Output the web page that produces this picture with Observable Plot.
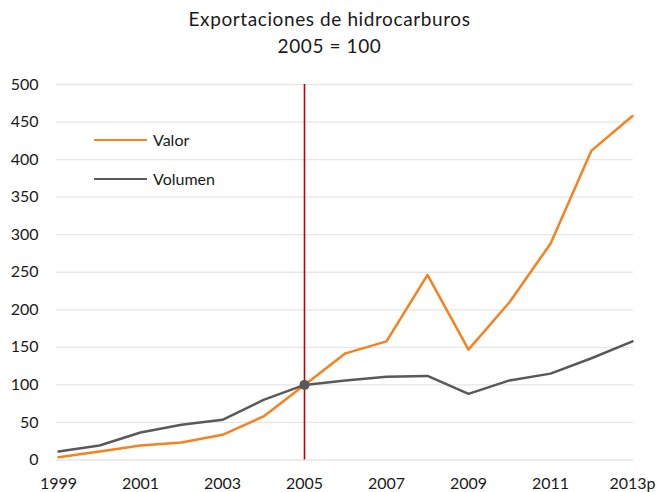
<!DOCTYPE html>
<html>
<head>
<meta charset="utf-8">
<script src="https://cdn.jsdelivr.net/npm/d3@7"></script>
<script src="https://cdn.jsdelivr.net/npm/@observablehq/plot@0.6"></script>
<style>
  html, body { margin: 0; padding: 0; background: #fff; }
  body { width: 657px; height: 492px; position: relative; font-family: Lato, "DejaVu Sans", sans-serif; color: #1a1a1a; overflow: hidden; }
  #title { text-align: center; font-size: 19px; letter-spacing: 0.6px; line-height: 27px; padding-top: 5px; height: 63px; padding-left: 2px; }
  #chart { position: absolute; left: 0; top: 68px; }
  .legend { position: absolute; font-size: 16px; display: flex; align-items: center; }
  .legend .sw { width: 53px; height: 0; border-top: 2.5px solid; margin-right: 6px; }
</style>
</head>
<body>
<div id="title">Exportaciones de hidrocarburos<br>2005 = 100</div>
<div id="chart"></div>
<div class="legend" style="left:94px; top:130px;"><span class="sw" style="border-color:#F5821F"></span>Valor</div>
<div class="legend" style="left:94px; top:169px;"><span class="sw" style="border-color:#595959"></span>Volumen</div>
<script>
const years = ["1999","2000","2001","2002","2003","2004","2005","2006","2007","2008","2009","2010","2011","2012","2013p"];
const valor = [3.8, 11.3, 19.3, 23.3, 33.5, 58, 100, 142, 158, 246.6, 147, 210, 288, 412, 458];
const volumen = [11.3, 19.3, 36.6, 46.8, 53.5, 80, 100, 106, 111, 112, 88, 106, 115, 135.5, 158];
const xTicks = ["1999","2001","2003","2005","2007","2009","2011","2013p"];
const yTicks = [0, 50, 100, 150, 200, 250, 300, 350, 400, 450, 500];
const baseYear = "2005";
const baseValue = 100;

const valorData = years.map((y, i) => ({year: y, value: valor[i]}));
const volData = years.map((y, i) => ({year: y, value: volumen[i]}));

const chart = Plot.plot({
  width: 657,
  height: 424,
  marginTop: 16,
  marginBottom: 32.5,
  marginLeft: 56,
  marginRight: 24,
  style: {fontFamily: "Lato, sans-serif", fontSize: "16px", color: "#1a1a1a", background: "#fff"},
  x: {type: "point", domain: years, padding: 0},
  y: {domain: [0, 500]},
  marks: [
    Plot.gridY(yTicks, {stroke: "#e6e6e6", strokeOpacity: 1, strokeWidth: 1.3}),
    Plot.axisY(yTicks, {tickSize: 0, tickPadding: 18, label: null}),
    Plot.axisX(xTicks, {tickSize: 0, tickPadding: 18, label: null}),
    Plot.ruleX([baseYear], {y1: 0, y2: 500, stroke: "#C00000", strokeWidth: 1.6}),
    Plot.line(valorData, {x: "year", y: "value", stroke: "#F5821F", strokeWidth: 2.5}),
    Plot.line(volData, {x: "year", y: "value", stroke: "#595959", strokeWidth: 2.5}),
    Plot.dot([{year: baseYear, value: baseValue}], {x: "year", y: "value", r: 5, fill: "#595959", stroke: "none"})
  ]
});
document.getElementById("chart").appendChild(chart);
</script>
</body>
</html>
